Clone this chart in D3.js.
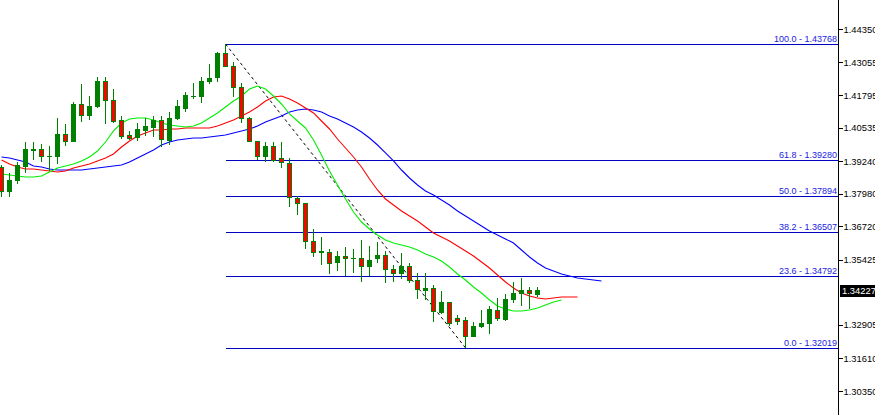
<!DOCTYPE html>
<html>
<head>
<meta charset="utf-8">
<script src="https://cdn.jsdelivr.net/npm/d3@7"></script>
<style>
  html, body { margin: 0; padding: 0; background: #fff; overflow: hidden; }
  svg { display: block; }
</style>
</head>
<body>
<svg id="chart" width="875" height="415"></svg>
<script>
// ---- DATA ----
const opens  = [1.38975,1.38047,1.38472,1.39013,1.39660,1.39671,1.39400,1.39400,1.40251,1.39980,
                1.41411,1.40986,1.41334,1.42301,1.41566,1.40792,1.40212,1.40135,1.40406,1.40522,
                1.40792,1.40019,1.40908,1.41257,1.41721,1.41721,1.42301,1.42455,1.43384,1.42881,
                1.42069,1.40870,1.39980,1.39400,1.39787,1.39323,1.39130,1.37776,1.37583,1.36113,
                1.35688,1.35688,1.35301,1.35533,1.35455,1.35455,1.35146,1.35455,1.35572,1.35030,
                1.34875,1.35146,1.34605,1.34218,1.34295,1.33367,1.33754,1.33135,1.33058,1.32439,
                1.32826,1.32942,1.33444,1.33096,1.33870,1.34102,1.34218,1.34063];
const highs  = [1.39091,1.38781,1.39207,1.39980,1.39980,1.39903,1.39826,1.40908,1.40676,1.41527,
                1.42223,1.41759,1.42494,1.42494,1.42030,1.40986,1.40406,1.40715,1.40908,1.40986,
                1.40986,1.41141,1.41605,1.41914,1.42262,1.42494,1.42997,1.43461,1.43768,1.43074,
                1.42262,1.40947,1.39980,1.39980,1.39980,1.39980,1.39362,1.37892,1.37583,1.36614,
                1.36306,1.35842,1.35765,1.35920,1.35842,1.36190,1.35958,1.36113,1.35765,1.35223,
                1.35688,1.35301,1.34914,1.34914,1.34450,1.34218,1.33792,1.33290,1.33212,1.33019,
                1.33483,1.33638,1.33947,1.34102,1.34566,1.34721,1.34373,1.34373];
const lows   = [1.37853,1.37853,1.38356,1.38781,1.39284,1.39207,1.38859,1.39130,1.39826,1.39980,
                1.40754,1.40831,1.41295,1.40676,1.40715,1.40096,1.40058,1.40019,1.40212,1.40174,
                1.39787,1.39864,1.40831,1.41141,1.41643,1.41489,1.42223,1.42301,1.42881,1.41721,
                1.40715,1.39980,1.39284,1.39207,1.39207,1.38975,1.37467,1.37157,1.35842,1.35533,
                1.35223,1.34875,1.34991,1.34798,1.34914,1.34566,1.34798,1.35301,1.34527,1.34566,
                1.34682,1.34527,1.33908,1.33870,1.33019,1.33328,1.32864,1.32903,1.32019,1.32439,
                1.32787,1.32555,1.33058,1.33058,1.33754,1.33638,1.33522,1.33986];
const closes = [1.38047,1.38472,1.39052,1.39671,1.39671,1.39400,1.39410,1.40251,1.39980,1.41411,
                1.40986,1.41334,1.42301,1.41566,1.40754,1.40174,1.40096,1.40444,1.40560,1.40792,
                1.40058,1.40908,1.41334,1.41759,1.41730,1.42301,1.42417,1.43384,1.42881,1.42069,
                1.40870,1.39980,1.39400,1.39787,1.39246,1.39168,1.37815,1.37583,1.36113,1.35688,
                1.35726,1.35262,1.35533,1.35455,1.35460,1.35146,1.35378,1.35572,1.35030,1.34875,
                1.35146,1.34605,1.34257,1.34295,1.33406,1.33754,1.32942,1.33019,1.32439,1.32826,
                1.32942,1.33483,1.33135,1.33908,1.34102,1.34218,1.34102,1.34227];

// Alligator-style moving averages (blue jaw, red teeth, green lips)
const blueLine = [1.39400,1.39362,1.39284,1.39207,1.39052,1.39013,1.38936,1.38897,1.38897,1.38897,
                  1.38897,1.38936,1.38975,1.39013,1.39052,1.39091,1.39207,1.39362,1.39516,1.39671,
                  1.39864,1.39980,1.40058,1.40096,1.40135,1.40135,1.40174,1.40212,1.40251,1.40328,
                  1.40406,1.40483,1.40599,1.40754,1.40870,1.40986,1.41141,1.41218,1.41257,1.41218,
                  1.41141,1.40986,1.40870,1.40715,1.40560,1.40367,1.40135,1.39864,1.39555,1.39246,
                  1.38897,1.38588,1.38317,1.38085,1.37930,1.37737,1.37544,1.37312,1.37118,1.36925,
                  1.36730,1.36536,1.36384,1.36229,1.36074,1.35804,1.35533,1.35301,1.35107,1.34991,
                  1.34875,1.34798,1.34721,1.34682,1.34643,1.34605];
const redLine  = [1.39284,1.39130,1.39013,1.38936,1.38936,1.38897,1.38859,1.38820,1.38859,1.38975,
                  1.39052,1.39130,1.39246,1.39362,1.39516,1.39787,1.40019,1.40212,1.40328,1.40444,
                  1.40444,1.40483,1.40483,1.40522,1.40522,1.40522,1.40522,1.40599,1.40715,1.40831,
                  1.40986,1.41141,1.41334,1.41566,1.41721,1.41759,1.41643,1.41489,1.41295,1.41102,
                  1.40792,1.40483,1.40096,1.39748,1.39400,1.39013,1.38549,1.38124,1.37776,1.37544,
                  1.37312,1.37118,1.36925,1.36691,1.36461,1.36306,1.36152,1.35958,1.35765,1.35572,
                  1.35339,1.35107,1.34837,1.34566,1.34334,1.34141,1.34025,1.33947,1.33908,1.33947,
                  1.33986,1.33986,1.33986];
const greenLine= [1.38743,1.38704,1.38665,1.38627,1.38627,1.38665,1.38820,1.38975,1.39052,1.39130,
                  1.39246,1.39400,1.39632,1.39980,1.40406,1.40715,1.40870,1.40908,1.40908,1.40831,
                  1.40715,1.40638,1.40599,1.40560,1.40599,1.40715,1.40908,1.41102,1.41334,1.41566,
                  1.41759,1.42030,1.42146,1.42030,1.41759,1.41450,1.41063,1.40792,1.40522,1.40058,
                  1.39478,1.38859,1.38317,1.37776,1.37273,1.36886,1.36614,1.36384,1.36190,1.36074,
                  1.35997,1.35920,1.35804,1.35649,1.35533,1.35378,1.35146,1.34875,1.34643,1.34373,
                  1.34141,1.33870,1.33638,1.33522,1.33444,1.33444,1.33483,1.33560,1.33676,1.33792,
                  1.33870];

// Fibonacci retracement
const fibLevels = ["100.0", "61.8", "50.0", "38.2", "23.6", "0.0"];
const fibPrices = [1.43768, 1.39280, 1.37894, 1.36507, 1.34792, 1.32019];
const fibStartBar = 28;
const fibEndBar = 58;

// Price axis
const axisTicks = ["1.44350","1.43055","1.41795","1.40535","1.39240","1.37980",
                   "1.36720","1.35425","1.32905","1.31610","1.30350"];
const lastPrice = "1.34227";

// ---- DRAWING ----
const svg = d3.select("#chart");
const W = 875, H = 415, axisX = 838;

const x = d3.scaleLinear().domain([0, 100]).range([1, 801]);
const y = d3.scaleLinear().domain([1.30350, 1.44350]).range([391, 29]);

const plot = svg.append("g");

// Fibonacci lines
const fibX0 = x(fibStartBar) + 1;
fibPrices.forEach((p, i) => {
  const yy = Math.round(y(p)) + 0.5;
  plot.append("line")
    .attr("x1", fibX0).attr("x2", axisX)
    .attr("y1", yy).attr("y2", yy)
    .attr("stroke", "#0000c0").attr("stroke-width", 1)
    .attr("shape-rendering", "crispEdges");
  plot.append("text")
    .attr("x", axisX - 1).attr("y", yy - 2.5)
    .attr("text-anchor", "end")
    .attr("font-family", "Liberation Sans, Arial, sans-serif")
    .attr("font-size", 9)
    .attr("fill", "#1a1ae6")
    .text(fibLevels[i] + " - " + p.toFixed(5));
});

// Dashed trend line
plot.append("line")
  .attr("x1", x(fibStartBar) + 0.5).attr("y1", y(fibPrices[0]))
  .attr("x2", x(fibEndBar) + 0.5).attr("y2", y(fibPrices[fibPrices.length - 1]))
  .attr("stroke", "#000").attr("stroke-width", 1)
  .attr("stroke-dasharray", "3,3");

// Moving averages
const maLine = d3.line().x((d, i) => x(i) + 0.5).y(d => y(d));
[[blueLine, "#0000ff"], [redLine, "#ff0000"], [greenLine, "#00ee00"]].forEach(([arr, col]) => {
  plot.append("path")
    .attr("d", maLine(arr))
    .attr("fill", "none")
    .attr("stroke", col)
    .attr("stroke-width", 1.1);
});

// Candles
const candles = plot.append("g").attr("shape-rendering", "crispEdges");
const idx = d3.range(opens.length);
candles.selectAll("line.wick").data(idx).join("line")
  .attr("class", "wick")
  .attr("x1", i => x(i) + 0.5).attr("x2", i => x(i) + 0.5)
  .attr("y1", i => y(highs[i])).attr("y2", i => y(lows[i]))
  .attr("stroke", "#008000").attr("stroke-width", 1);
candles.selectAll("rect.body").data(idx).join("rect")
  .attr("class", "body")
  .attr("x", i => x(i) - 1.5)
  .attr("width", 4)
  .attr("y", i => Math.min(y(opens[i]), y(closes[i])))
  .attr("height", i => Math.max(0.01, Math.abs(y(opens[i]) - y(closes[i]))))
  .attr("fill", i => closes[i] >= opens[i] ? "#008000" : "#ff0000")
  .attr("stroke", "#008000").attr("stroke-width", 1);

// Price axis
svg.append("line")
  .attr("x1", axisX + 0.5).attr("x2", axisX + 0.5)
  .attr("y1", 0).attr("y2", H)
  .attr("stroke", "#000").attr("stroke-width", 1)
  .attr("shape-rendering", "crispEdges");

const axisG = svg.append("g").attr("transform", `translate(${axisX + 0.5},0)`);
const axis = d3.axisRight(y)
  .tickValues(axisTicks.map(Number))
  .tickFormat((d, i) => axisTicks[i])
  .tickSize(4).tickPadding(1);
axisG.call(axis);
axisG.select(".domain").remove();
axisG.selectAll(".tick line").attr("stroke", "#000").attr("shape-rendering", "crispEdges");
axisG.selectAll(".tick text")
  .attr("font-family", "Liberation Sans, Arial, sans-serif")
  .attr("font-size", 9.4)
  .attr("fill", "#000");

// Current price marker
const lp = Number(lastPrice);
const lpY = y(lp);
svg.append("rect")
  .attr("x", axisX + 2).attr("y", Math.round(lpY) - 6)
  .attr("width", W - axisX).attr("height", 12)
  .attr("fill", "#000");
svg.append("text")
  .attr("x", axisX + 4).attr("y", lpY)
  .attr("dy", "0.35em")
  .attr("font-family", "Liberation Sans, Arial, sans-serif")
  .attr("font-size", 9.4)
  .attr("fill", "#fff")
  .text(lastPrice);
</script>
</body>
</html>
